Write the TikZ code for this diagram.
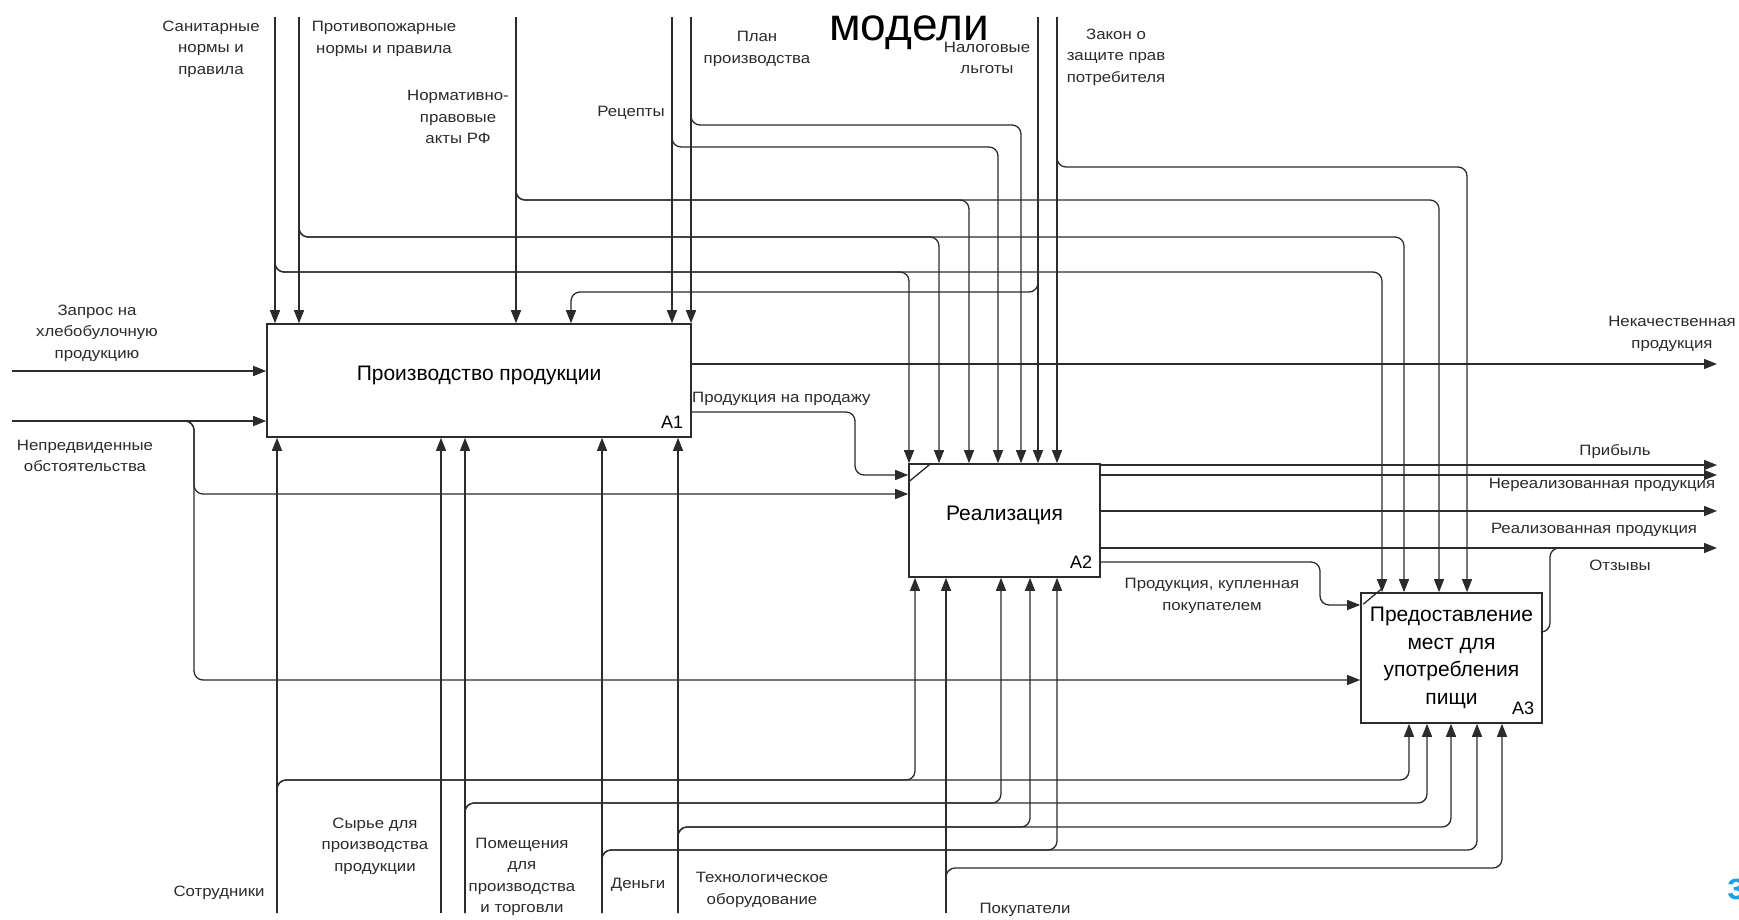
\documentclass[tikz,border=0pt]{standalone}
\usepackage{fontspec}
\setmainfont{Liberation Sans}
\newfontfamily\lblfont[FakeStretch=1.12]{Liberation Sans}
\usepackage{xcolor}
\definecolor{cLine}{HTML}{2B2B2B}
\definecolor{cBlue}{HTML}{1AA3E8}
\usepackage{tikz}
\usetikzlibrary{positioning,arrows.meta}
\tikzset{
  func-box/.style={draw=cLine,line width=1.6pt,inner sep=0pt,align=center,
    font=\fontsize{21}{27.5}\selectfont},
  func-id/.style={anchor=south east,inner sep=0pt,font=\fontsize{18}{18}\selectfont},
  arrow-lbl/.style={inner sep=0pt,align=center,text=cLine,
    font=\lblfont\fontsize{15}{21.5}\selectfont},
  arrow/.style={-{Triangle[length=13pt,width=10pt]},line width=1.3pt,draw=cLine,
    rounded corners=9pt},
  conn-line/.style={line width=1.3pt,draw=cLine,rounded corners=9pt},
}

\begin{document}
\begin{tikzpicture}[x=1pt,y=-1pt]
  \fill[white] (0,0) rectangle (1739,919);
  \useasboundingbox (0,0) rectangle (1739,919);

  % функциональные блоки
  \node[func-box,minimum width=424pt,minimum height=113pt,text depth=14pt] (a1) at (479,380.5) {Производство продукции};
  \node[func-box,minimum width=191pt,minimum height=113pt,text depth=14pt] (a2) at (1004.5,520.5) {Реализация};
  \node[func-box,minimum width=181pt,minimum height=130pt] (a3) at (1451.5,658) {Предоставление\\мест для\\употребления\\пищи};
  \node[func-id] (a1-id) at ([shift={(-8.5pt,9pt)}]a1.south east) {A1};
  \node[func-id] (a2-id) at ([shift={(-8.5pt,9pt)}]a2.south east) {A2};
  \node[func-id] (a3-id) at ([shift={(-8.5pt,9pt)}]a3.south east) {A3};

  \coordinate (san) at (275,17);
  \coordinate (prot) at (299,17);
  \coordinate (norm) at (516,17);
  \coordinate (recept) at (672,17);
  \coordinate (plan) at (691,17);
  \coordinate (nalog) at (1038,17);
  \coordinate (zakon) at (1057,17);
  \coordinate (zapros) at (12,371);
  \coordinate (nepred) at (12,421);
  \coordinate (sotr) at (277,913);
  \coordinate (syrye) at (441,913);
  \coordinate (pomesh) at (465,913);
  \coordinate (dengi) at (602,913);
  \coordinate (tech) at (678,913);
  \coordinate (pokup) at (946,913);
  \coordinate (nekach) at (1717,364);
  \coordinate (pribyl) at (1717,465);
  \coordinate (nereal) at (1717,475);
  \coordinate (real) at (1717,511);
  \coordinate (otzyv) at (1717,548);

  % управление
  \draw[arrow] (san) -- (san |- a1.north);
  \draw[arrow] (san) |- (909,272) -- (909,0 |- a2.north);
  \draw[arrow] (san) |- (1382,272) -- (1382,0 |- a3.north);
  \draw[arrow] (prot) -- (prot |- a1.north);
  \draw[arrow] (prot) |- (939,237) -- (939,0 |- a2.north);
  \draw[arrow] (prot) |- (1404,237) -- (1404,0 |- a3.north);
  \draw[arrow] (norm) -- (norm |- a1.north);
  \draw[arrow] (norm) |- (969,200) -- (969,0 |- a2.north);
  \draw[arrow] (norm) |- (1439,200) -- (1439,0 |- a3.north);
  \draw[arrow] (recept) -- (recept |- a1.north);
  \draw[arrow] (recept) |- (998,147) -- (998,0 |- a2.north);
  \draw[arrow] (plan) -- (plan |- a1.north);
  \draw[arrow] (plan) |- (1021,125) -- (1021,0 |- a2.north);
  \draw[arrow] (nalog) -- (nalog |- a2.north);
  \draw[arrow] (nalog) |- (571,292) -- (571,0 |- a1.north);
  \draw[arrow] (zakon) -- (zakon |- a2.north);
  \draw[arrow] (zakon) |- (1467,167) -- (1467,0 |- a3.north);

  % входы и выходы
  \draw[arrow] (zapros) -- (zapros -| a1.west);
  \draw[arrow] (nepred) -- (nepred -| a1.west);
  \draw[arrow] (nepred) -| (194,494) -- (a2.west |- 0,494);
  \draw[arrow] (nepred) -| (194,680) -- (a3.west |- 0,680);
  \draw[arrow] (a1.east |- 0,412) -| (855,475) -- (a2.west |- 0,475);
  \draw[arrow] (a1.east |- 0,364) -- (nekach);
  \draw[arrow] (a2.east |- pribyl) -- (pribyl);
  \draw[arrow] (a2.east |- nereal) -- (nereal);
  \draw[arrow] (a2.east |- real) -- (real);
  \draw[arrow] (a2.east |- otzyv) -- (otzyv);
  \draw[arrow] (a2.east |- 0,562) -| (1320,605) -- (a3.west |- 0,605);
  \draw[conn-line] (a3.east |- 0,632) -| (1550,548) -- (1580,548);
  \draw[conn-line] ([yshift=-19pt]a2.north west) -- ([xshift=23pt]a2.north west);
  \draw[conn-line] ([xshift=3pt,yshift=-12pt]a3.north west) -- ([xshift=21pt,yshift=3pt]a3.north west);

  % механизмы
  \draw[arrow] (sotr) -- (sotr |- a1.south);
  \draw[arrow] (sotr) |- (915,780) -- (915,0 |- a2.south);
  \draw[arrow] (sotr) |- (1409,780) -- (1409,0 |- a3.south);
  \draw[arrow] (syrye) -- (syrye |- a1.south);
  \draw[arrow] (pomesh) -- (pomesh |- a1.south);
  \draw[arrow] (pomesh) |- (1001,803) -- (1001,0 |- a2.south);
  \draw[arrow] (pomesh) |- (1427,803) -- (1427,0 |- a3.south);
  \draw[arrow] (dengi) -- (dengi |- a1.south);
  \draw[arrow] (dengi) |- (1057,850) -- (1057,0 |- a2.south);
  \draw[arrow] (dengi) |- (1477,850) -- (1477,0 |- a3.south);
  \draw[arrow] (tech) -- (tech |- a1.south);
  \draw[arrow] (tech) |- (1030,827) -- (1030,0 |- a2.south);
  \draw[arrow] (tech) |- (1451,827) -- (1451,0 |- a3.south);
  \draw[arrow] (pokup) -- (pokup |- a2.south);
  \draw[arrow] (pokup) |- (1502,868) -- (1502,0 |- a3.south);

  % подписи
  \node[arrow-lbl] (san-lbl) at (211,49) {Санитарные\\нормы и\\правила};
  \node[arrow-lbl] (prot-lbl) at (384,39) {Противопожарные\\нормы и правила};
  \node[arrow-lbl] (norm-lbl) at (458,117) {Нормативно-\\правовые\\акты РФ};
  \node[arrow-lbl] (recept-lbl) at (631,113) {Рецепты};
  \node[arrow-lbl] (plan-lbl) at (757,49) {План\\производства};
  \node[arrow-lbl] (nalog-lbl) at (987,58) {Налоговые\\льготы};
  \node[arrow-lbl] (zakon-lbl) at (1116,57) {Закон о\\защите прав\\потребителя};
  \node[arrow-lbl] (zapros-lbl) at (97,333) {Запрос на\\хлебобулочную\\продукцию};
  \node[arrow-lbl] (nepred-lbl) at (85,456) {Непредвиденные\\обстоятельства};
  \node[arrow-lbl,anchor=west] (sale-lbl) at (692,399) {Продукция на продажу};
  \node[arrow-lbl] (nekach-lbl) at (1672,334) {Некачественная\\продукция};
  \node[arrow-lbl] (pribyl-lbl) at (1615,452) {Прибыль};
  \node[arrow-lbl] (nereal-lbl) at (1602,485) {Нереализованная продукция};
  \node[arrow-lbl] (real-lbl) at (1594,530) {Реализованная продукция};
  \node[arrow-lbl] (otzyv-lbl) at (1620,565) {Отзывы};
  \node[arrow-lbl] (kupl-lbl) at (1212,596) {Продукция, купленная\\покупателем};
  \node[arrow-lbl] (sotr-lbl) at (219,893) {Сотрудники};
  \node[arrow-lbl] (syrye-lbl) at (375,846) {Сырье для\\производства\\продукции};
  \node[arrow-lbl] (pomesh-lbl) at (522,877) {Помещения\\для\\производства\\и торговли};
  \node[arrow-lbl] (dengi-lbl) at (638,885) {Деньги};
  \node[arrow-lbl] (tech-lbl) at (762,890) {Технологическое\\оборудование};
  \node[arrow-lbl] (pokup-lbl) at (1025,910) {Покупатели};

  \node[anchor=base,inner sep=0pt,font=\fontsize{46}{46}\selectfont] (title) at (909,40) {модели};
  \node[anchor=base west,inner sep=0pt,text=cBlue,font=\bfseries\fontsize{38}{38}\selectfont] (edge-char) at (1727,899) {з};
\end{tikzpicture}
\end{document}
